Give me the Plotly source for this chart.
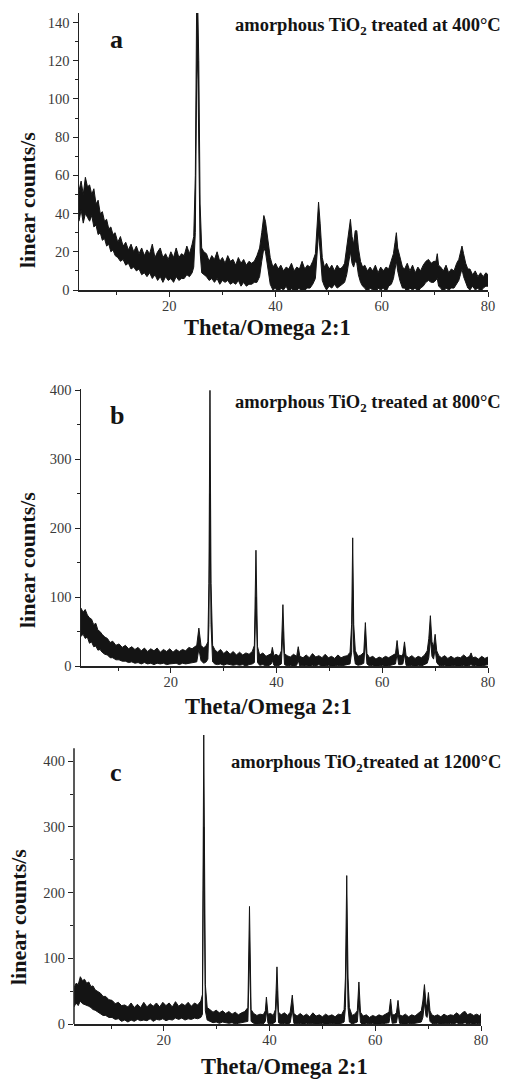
import plotly.graph_objects as go

# ---------------- data ----------------
# Each panel: scattering angle positions, and the lower / upper edge of the
# noisy measured trace at those positions (grouped by stretch of the pattern).

# Panel a: amorphous TiO2 treated at 400 °C
theta_a = [
    [3.0, 3.4, 3.8, 4.2, 4.6, 5.0, 5.4, 5.8, 6.2, 6.6, 7.0, 7.4, 7.8, 8.2, 8.6, 9.0, 9.4, 9.8],
    [10.3, 10.8, 11.3, 11.8, 12.3, 12.8, 13.3, 13.8, 14.3, 14.8, 15.3, 15.8, 16.3, 16.8,
     17.3, 17.8, 18.3, 18.8, 19.3, 19.8, 20.3, 20.8, 21.3, 21.8, 22.3, 22.8, 23.3, 23.8],
    [24.3, 24.6, 24.9, 25.15, 25.35, 25.55, 25.8, 26.1, 26.5],
    [27.0, 27.5, 28.0, 28.5, 29.0, 29.5, 30.0, 30.5, 31.0, 31.5, 32.0, 32.5, 33.0, 33.5,
     34.0, 34.5, 35.0, 35.5, 36.0],
    [36.5, 37.0, 37.4, 37.8, 38.1, 38.5, 39.0, 39.5],
    [40.0, 40.5, 41.0, 41.5, 42.0, 42.5, 43.0, 43.5, 44.0, 44.5, 45.0, 45.5, 46.0, 46.5, 47.0],
    [47.5, 47.8, 48.1, 48.4, 48.8, 49.2],
    [49.6, 50.1, 50.6, 51.1, 51.6, 52.1, 52.6, 53.0],
    [53.4, 53.8, 54.1, 54.4, 54.7, 55.0, 55.3, 55.6, 56.0, 56.4],
    [56.8, 57.3, 57.8, 58.3, 58.8, 59.3, 59.8, 60.3, 60.8, 61.3, 61.8],
    [62.2, 62.5, 62.75, 63.0, 63.4, 63.9],
    [64.3, 64.8, 65.3, 65.8, 66.3, 66.8, 67.3, 67.8],
    [68.3, 68.8, 69.3, 69.8, 70.2, 70.45, 70.7, 71.1],
    [71.6, 72.1, 72.6, 73.1, 73.6, 74.1],
    [74.5, 74.8, 75.1, 75.4, 75.8, 76.2],
    [76.6, 77.1, 77.6, 78.1, 78.6, 79.1, 79.6, 80.0],
]
upper_a = [
    [52, 57, 50, 59, 54, 55, 50, 53, 45, 47, 40, 41, 36, 37, 32, 33, 29, 30],
    [25, 28, 23, 25, 21, 24, 20, 23, 19, 22, 18, 21, 19, 24,
     17, 20, 22, 17, 19, 16, 20, 17, 22, 17, 19, 18, 23, 19],
    [24, 28, 60, 150, 150, 120, 45, 22, 20],
    [19, 15, 18, 16, 20, 15, 17, 14, 18, 15, 16, 13, 17, 14, 16, 13, 15, 14, 15],
    [18, 22, 30, 39, 36, 28, 17, 12],
    [14, 11, 13, 10, 12, 11, 14, 10, 12, 11, 15, 11, 13, 12, 15],
    [19, 33, 46, 35, 17, 12],
    [14, 11, 13, 10, 13, 11, 12, 14],
    [22, 32, 37, 28, 24, 31, 31, 22, 15, 12],
    [13, 10, 12, 10, 13, 9, 12, 10, 12, 11, 15],
    [19, 25, 30, 22, 17, 12],
    [11, 14, 10, 13, 9, 12, 10, 13],
    [15, 16, 14, 15, 15, 19, 13, 12],
    [10, 13, 9, 11, 10, 14],
    [16, 20, 23, 19, 14, 11],
    [11, 8, 10, 7, 9, 7, 9, 8],
]
lower_a = [
    [36, 42, 35, 40, 38, 36, 39, 33, 34, 29, 30, 26, 27, 23, 24, 20, 21, 18],
    [17, 15, 16, 13, 14, 11, 12, 10, 11, 8, 9, 7, 9, 6,
     8, 5, 7, 4, 7, 5, 6, 4, 7, 5, 6, 6, 8, 7],
    [9, 12, 30, 110, 120, 80, 20, 9, 8],
    [7, 5, 6, 4, 6, 3, 5, 4, 5, 3, 4, 3, 5, 2, 4, 2, 3, 3, 4],
    [4, 7, 15, 22, 20, 12, 3, 0],
    [1, -2, 1, 0, 2, -1, 1, -2, 0, 1, -2, 0, 1, 1, 3],
    [6, 18, 30, 20, 5, 2],
    [0, 2, 1, 3, 1, 2, 3, 4],
    [8, 16, 20, 14, 12, 15, 14, 8, 4, 2],
    [1, -1, 1, 0, -2, 1, 0, 1, -1, 2, 3],
    [6, 11, 15, 10, 5, 1],
    [1, -1, 1, 0, 1, -1, 1, 2],
    [4, 5, 4, 4, 5, 6, 2, 1],
    [-1, 1, 0, 1, 1, 3],
    [5, 8, 11, 7, 4, 1],
    [0, 2, 0, 1, -1, 1, 2, 2],
]

# Panel b: amorphous TiO2 treated at 800 °C
theta_b = [
    [3.0, 3.4, 3.8, 4.2, 4.6, 5.0, 5.4, 5.8, 6.2, 6.6, 7.0, 7.5, 8.0, 8.5, 9.0,
     9.6, 10.2, 10.8, 11.4, 12.0, 12.6, 13.2, 13.8, 14.4, 15.0, 15.6, 16.2, 16.8, 17.4, 18.0,
     18.6, 19.2, 19.8, 20.4, 21.0, 21.6, 22.2, 22.8, 23.4, 24.0],
    [24.9, 25.3, 25.7, 26.2, 26.7, 27.0, 27.2, 27.4, 27.6, 27.9, 28.3],
    [28.8, 29.4, 30.0, 30.6, 31.2, 31.8, 32.4, 33.0, 33.6, 34.2, 34.8, 35.4],
    [35.8, 36.1, 36.4, 36.8, 37.4, 38.0, 38.6, 39.0, 39.2, 39.5, 39.9, 40.5],
    [40.9, 41.2, 41.5, 42.0, 42.6, 43.2, 43.8, 44.1, 44.4],
    [45.0, 45.6, 46.2, 46.8, 47.4, 48.0, 48.6, 49.2, 49.8, 50.4, 51.0, 51.6, 52.2, 52.8, 53.4],
    [53.9, 54.2, 54.4, 54.6, 54.9, 55.4, 56.0, 56.5, 56.8, 57.1],
    [57.6, 58.2, 58.8, 59.4, 60.0, 60.6, 61.2, 61.8],
    [62.5, 62.8, 63.1, 63.6, 63.9, 64.2, 64.5],
    [65.0, 65.6, 66.2, 66.8, 67.4, 68.0],
    [68.5, 68.8, 69.1, 69.4, 69.7, 70.0, 70.3, 70.7],
    [71.2, 71.8, 72.4, 73.0, 73.6, 74.2, 74.8, 75.4, 76.0, 76.5, 76.8, 77.1, 77.6, 78.2,
     78.8, 79.4, 80.0],
]
upper_b = [
    [84, 78, 82, 74, 70, 68, 60, 62, 52, 50, 46, 42, 40, 34, 36,
     30, 32, 27, 30, 25, 28, 24, 27, 22, 26, 21, 25, 22, 26, 20,
     24, 21, 25, 20, 24, 21, 24, 22, 27, 25],
    [30, 55, 30, 26, 30, 35, 120, 400, 120, 30, 24],
    [20, 24, 18, 22, 17, 21, 16, 20, 16, 19, 17, 21],
    [30, 168, 28, 16, 19, 14, 16, 18, 27, 15, 17, 14],
    [22, 89, 18, 15, 13, 17, 14, 28, 14],
    [12, 16, 12, 18, 13, 15, 12, 17, 12, 14, 11, 16, 12, 14, 15],
    [20, 60, 186, 60, 22, 14, 16, 20, 63, 18],
    [12, 14, 10, 13, 11, 14, 12, 15],
    [18, 37, 16, 15, 17, 35, 15],
    [12, 15, 11, 14, 12, 16],
    [22, 40, 73, 35, 28, 46, 22, 15],
    [12, 15, 11, 14, 11, 13, 12, 16, 12, 14, 19, 12, 13, 10, 14, 11, 13],
]
lower_b = [
    [43, 46, 40, 42, 33, 35, 28, 29, 23, 24, 20, 17, 16, 12, 12,
     9, 9, 7, 7, 5, 6, 4, 5, 3, 5, 3, 4, 2, 4, 3,
     4, 2, 3, 3, 4, 2, 4, 3, 4, 4],
    [6, 25, 8, 4, 6, 10, 60, 250, 60, 6, 3],
    [2, 3, 1, 3, 2, 1, 2, 1, 2, 0, 2, 3],
    [5, 100, 5, 1, 2, 0, 1, 3, 8, 1, 0, 1],
    [3, 50, 2, 0, 1, -1, 1, 8, 0],
    [0, 1, -1, 1, 0, 2, -1, 0, 1, -1, 0, 1, 0, 1, 2],
    [3, 20, 110, 20, 3, 1, 2, 4, 35, 3],
    [0, 1, -1, 0, 1, -1, 0, 2],
    [3, 18, 2, 2, 3, 17, 1],
    [0, 1, -1, 1, 0, 2],
    [4, 12, 40, 14, 10, 25, 5, 1],
    [0, 1, -1, 0, 1, -1, 0, 1, -1, 1, 2, 0, 1, -1, 0, 1, 2],
]

# Panel c: amorphous TiO2 treated at 1200 °C
theta_c = [
    [3.0, 3.4, 3.8, 4.2, 4.6, 5.0, 5.4, 5.8, 6.2, 6.6, 7.0, 7.5, 8.0, 8.5, 9.0,
     9.6, 10.2, 10.8, 11.4, 12.0, 12.6, 13.2, 13.8, 14.4, 15.0, 15.6, 16.2, 16.8, 17.4, 18.0,
     18.6, 19.2, 19.8, 20.4, 21.0, 21.6, 22.2, 22.8, 23.4, 24.0, 24.6, 25.2, 25.8, 26.4, 27.0],
    [27.3, 27.55, 27.85, 28.2],
    [28.7, 29.3, 29.9, 30.5, 31.1, 31.7, 32.3, 32.9, 33.5, 34.1, 34.7, 35.3],
    [35.9, 36.2, 36.5, 37.0, 37.6, 38.2, 38.8, 39.2, 39.4, 39.7, 40.2, 40.7],
    [41.1, 41.4, 41.7, 42.2, 42.8, 43.4, 43.9, 44.3, 44.6],
    [45.2, 45.8, 46.4, 47.0, 47.6, 48.2, 48.8, 49.4, 50.0, 50.6, 51.2, 51.8, 52.4, 53.0, 53.6],
    [54.1, 54.35, 54.6, 54.85, 55.1, 55.6, 56.1, 56.6, 56.9, 57.2],
    [57.7, 58.3, 58.9, 59.5, 60.1, 60.7, 61.3, 61.9],
    [62.6, 62.9, 63.2, 63.6, 64.0, 64.3, 64.6],
    [65.1, 65.7, 66.3, 66.9, 67.5, 68.1],
    [68.7, 69.0, 69.3, 69.6, 69.8, 70.05, 70.35, 70.7],
    [71.2, 71.8, 72.4, 73.0, 73.6, 74.2, 74.8, 75.4, 76.0, 76.6, 77.0, 77.4, 78.0, 78.6,
     79.2, 79.8, 80.0],
]
upper_c = [
    [55, 62, 60, 72, 66, 68, 62, 64, 57, 58, 52, 50, 47, 42, 42,
     37, 36, 31, 33, 28, 29, 26, 32, 25, 30, 25, 33, 26, 31, 27,
     32, 26, 33, 28, 32, 26, 34, 27, 31, 28, 33, 27, 32, 29, 35],
    [45, 440, 60, 25],
    [22, 18, 21, 17, 20, 16, 19, 15, 18, 14, 17, 19],
    [25, 179, 22, 16, 13, 15, 14, 20, 41, 15, 16, 13],
    [22, 87, 18, 14, 17, 13, 18, 44, 16],
    [12, 16, 12, 15, 11, 17, 12, 14, 11, 15, 12, 14, 11, 15, 14],
    [22, 70, 226, 70, 25, 13, 15, 20, 64, 18],
    [12, 14, 10, 13, 11, 14, 12, 15],
    [18, 38, 14, 14, 17, 36, 14],
    [12, 15, 11, 14, 12, 16],
    [20, 35, 60, 30, 28, 48, 20, 14],
    [12, 14, 11, 15, 12, 14, 13, 17, 13, 18, 19, 14, 16, 13, 15, 12, 16],
]
lower_c = [
    [26, 32, 28, 35, 31, 30, 28, 27, 25, 22, 21, 18, 16, 13, 13,
     10, 10, 7, 8, 4, 6, 3, 6, 4, 7, 5, 6, 5, 8, 4,
     7, 6, 8, 5, 7, 6, 9, 7, 9, 6, 8, 7, 9, 8, 10],
    [15, 300, 20, 6],
    [4, 2, 3, 1, 3, 2, 1, 2, 0, 1, 2, 3],
    [4, 110, 4, 1, -1, 1, 0, 4, 20, 1, 0, 1],
    [3, 50, 2, 0, 1, -1, 2, 22, 1],
    [0, 1, -1, 1, 0, 1, -1, 0, 1, -1, 0, 1, 0, -1, 1],
    [3, 25, 140, 25, 3, 0, 1, 3, 35, 2],
    [-1, 1, 0, 1, -1, 0, 1, 1],
    [2, 18, 1, 1, 2, 17, 1],
    [0, -1, 1, 0, 1, 2],
    [3, 10, 32, 12, 10, 25, 4, 1],
    [0, 1, -1, 1, 0, 1, 0, 2, 0, 1, 2, 0, 1, -1, 1, 0, 2],
]

x_ticks = [20, 40, 60, 80]
x_minor = [10, 30, 50, 70]
y_ticks_a = [0, 20, 40, 60, 80, 100, 120, 140]
y_ticks_bc = [0, 100, 200, 300, 400]
panel_letters = ["a", "b", "c"]
panel_notes = ["amorphous TiO<sub>2</sub> treated at 400°C",
               "amorphous TiO<sub>2</sub> treated at 800°C",
               "amorphous TiO<sub>2</sub>treated at 1200°C"]
x_title = "Theta/Omega 2:1"
y_title = "linear counts/s"


def flatten(name, xs, lo, hi):
    fx, flo, fhi = [], [], []
    for k, (a, b, c) in enumerate(zip(xs, lo, hi)):
        if not (len(a) == len(b) == len(c)):
            raise ValueError(f"{name} group {k}: {len(a)} {len(b)} {len(c)}")
        fx += a
        flo += b
        fhi += c
    return fx, flo, fhi


# ---------------- layout helpers ----------------
W, H = 508, 1083
SERIF = "Liberation Serif"
INK = "#141414"
AX = "#222222"


def px_x(p):
    return p / W


def px_y(p):
    return 1 - p / H


panels = [
    dict(xl=79, xr=488, yb=290, yt=13, yr=[0, 145], yt_vals=y_ticks_a, ymin=10,
         data=flatten("a", theta_a, lower_a, upper_a), line_top=None),
    dict(xl=81, xr=488, yb=666, yt=389, yr=[0, 402], yt_vals=y_ticks_bc, ymin=50,
         data=flatten("b", theta_b, lower_b, upper_b), line_top=None),
    dict(xl=74, xr=481, yb=1024, yt=733.7, yr=[0, 442], yt_vals=y_ticks_bc, ymin=50,
         data=flatten("c", theta_c, lower_c, upper_c), line_top=420),
]

fig = go.Figure()
layout_axes = {}
shapes = []
tickfont = dict(family=SERIF, size=14.5, color="#3a3a3a")
for i, p in enumerate(panels):
    n = "" if i == 0 else str(i + 1)
    xs, lo, hi = p["data"]
    fig.add_trace(go.Scatter(x=xs, y=lo, mode="lines", line=dict(color=INK, width=1),
                             xaxis="x" + n, yaxis="y" + n, hoverinfo="skip"))
    fig.add_trace(go.Scatter(x=xs, y=hi, mode="lines", line=dict(color=INK, width=1),
                             fill="tonexty", fillcolor=INK,
                             xaxis="x" + n, yaxis="y" + n, hoverinfo="skip"))
    layout_axes["xaxis" + n] = dict(
        domain=[px_x(p["xl"]), px_x(p["xr"])], range=[3, 80], anchor="y" + n,
        automargin=False,
        showline=True, linecolor=AX, linewidth=1.5, mirror=False,
        ticks="outside", ticklen=5, tickwidth=1, tickcolor=AX,
        ticklabelstandoff=-3,
        tickmode="array", tickvals=x_ticks, tickfont=tickfont,
        minor=dict(tickmode="array", tickvals=x_minor, ticks="outside", ticklen=3,
                   tickwidth=1, tickcolor=AX, showgrid=False),
        showgrid=False, zeroline=False, fixedrange=True)
    layout_axes["yaxis" + n] = dict(
        domain=[px_y(p["yb"]), px_y(p["yt"])], range=p["yr"], anchor="x" + n,
        automargin=False,
        showline=p["line_top"] is None, linecolor=AX, linewidth=1.5,
        ticks="outside", ticklen=5, tickwidth=1, tickcolor=AX,
        tickmode="array", tickvals=p["yt_vals"], tickfont=tickfont,
        minor=dict(dtick=p["ymin"], tick0=0, ticks="outside", ticklen=3, tickwidth=1,
                   tickcolor=AX, showgrid=False),
        showgrid=False, zeroline=False, fixedrange=True)
    if p["line_top"] is not None:
        shapes.append(dict(type="line", xref="x" + n + " domain", x0=0, x1=0,
                           yref="y" + n, y0=0, y1=p["line_top"],
                           line=dict(color=AX, width=1.5)))

annotations = []
ytitle_pos = [(27, 200), (27, 560), (18, 917)]
xtitle_pos = [(267, 327), (268, 706), (284, 1066)]
note_pos = [(503, 27), (503, 403), (503, 763)]
letter_pos = [(116, 40), (117, 415), (116, 772)]
for i in range(3):
    annotations.append(dict(text=y_title, textangle=-90, showarrow=False,
                            xref="paper", yref="paper",
                            x=px_x(ytitle_pos[i][0]), y=px_y(ytitle_pos[i][1]),
                            xanchor="center", yanchor="middle",
                            font=dict(family=SERIF, size=22, color=INK, weight="bold")))
    annotations.append(dict(text=x_title, showarrow=False, xref="paper", yref="paper",
                            x=px_x(xtitle_pos[i][0]), y=px_y(xtitle_pos[i][1]),
                            xanchor="center", yanchor="middle",
                            font=dict(family=SERIF, size=22.5, color=INK, weight="bold")))
    annotations.append(dict(text=panel_notes[i], showarrow=False, xref="paper", yref="paper",
                            x=px_x(note_pos[i][0]), y=px_y(note_pos[i][1]),
                            xanchor="right", yanchor="middle",
                            font=dict(family=SERIF, size=18.5, color=INK, weight="bold")))
    annotations.append(dict(text=panel_letters[i], showarrow=False, xref="paper", yref="paper",
                            x=px_x(letter_pos[i][0]), y=px_y(letter_pos[i][1]),
                            xanchor="center", yanchor="middle",
                            font=dict(family=SERIF, size=26, color=INK, weight="bold")))

fig.update_layout(width=W, height=H, margin=dict(l=0, r=0, t=0, b=0, pad=0),
                  autosize=False,
                  paper_bgcolor="white", plot_bgcolor="white", showlegend=False,
                  annotations=annotations, shapes=shapes, **layout_axes)

fig.write_html("out.html",
               config={"displayModeBar": False, "staticPlot": True},
               post_script="document.body.style.margin='0px';"
                           "document.body.style.padding='0px';"
                           "document.body.style.overflow='hidden';")
